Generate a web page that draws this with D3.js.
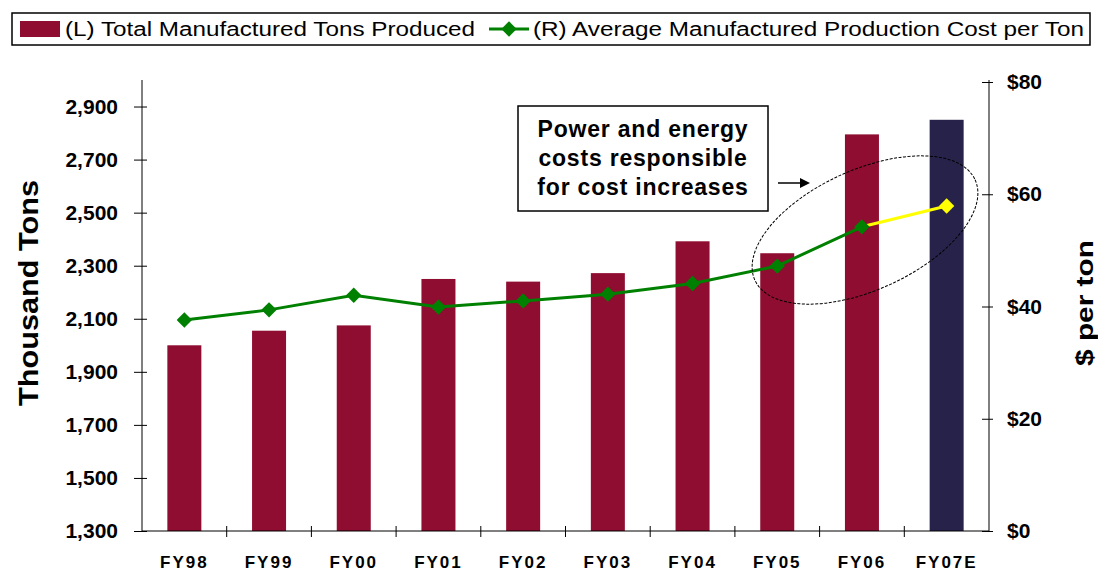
<!DOCTYPE html>
<html>
<head>
<meta charset="utf-8">
<script src="https://cdn.jsdelivr.net/npm/d3@7"></script>
<style>
  body { margin: 0; background: #fff; }
  svg { display: block; font-family: "Liberation Sans", Arial, sans-serif; }
</style>
</head>
<body>
<svg id="chart" width="1098" height="575"></svg>
<script>
  // data
  var years = ["FY98", "FY99", "FY00", "FY01", "FY02", "FY03", "FY04", "FY05", "FY06", "FY07E"];
  var tons = [2000, 2055, 2075, 2250, 2240, 2272, 2392, 2347, 2795, 2850];
  var costPerTon = [37.6, 39.4, 42.0, 39.9, 41.0, 42.2, 44.1, 47.2, 54.2, 57.9];
  var leftTicks = [1300, 1500, 1700, 1900, 2100, 2300, 2500, 2700, 2900];
  var rightTicks = [0, 20, 40, 60, 80];
  var noteLines = ["Power and energy", "costs responsible", "for cost increases"];

  var svg = d3.select("#chart");
  var plotL = 142, plotR = 989, plotT = 80, plotB = 531;

  var xs = d3.scaleBand().domain(years).range([plotL, plotR]);
  var yL = d3.scaleLinear().domain([1300, 3000]).range([plotB, plotT]);
  var yR = d3.scaleLinear().domain([0, 80]).range([plotB, 82]);

  // bars
  svg.selectAll("rect.bar").data(years).enter().append("rect")
      .attr("class", "bar")
      .attr("x", function(d) { return xs(d) + xs.bandwidth() / 2 - 17; })
      .attr("width", 34)
      .attr("y", function(d, i) { return yL(tons[i]); })
      .attr("height", function(d, i) { return plotB - yL(tons[i]); })
      .attr("fill", function(d) { return d == "FY07E" ? "#27224a" : "#8e0d30"; });

  // axes
  var axL = svg.append("g").attr("transform", "translate(" + plotL + ",0)")
      .call(d3.axisLeft(yL).tickValues(leftTicks).tickFormat(d3.format(",")).tickSize(8));
  axL.select(".domain").attr("d", "M0," + plotT + "V" + plotB);
  axL.selectAll(".tick line").attr("x2", -8).attr("x1", 5);
  axL.selectAll(".tick text").attr("x", -24)
      .attr("font-size", 21).attr("font-weight", "bold")
      .attr("font-family", "'Liberation Sans', Arial, sans-serif").attr("fill", "#000");

  var axR = svg.append("g").attr("transform", "translate(" + plotR + ",0)")
      .call(d3.axisRight(yR).tickValues(rightTicks).tickFormat(function(d) { return "$" + d; }).tickSize(4));
  axR.select(".domain").attr("d", "M0," + plotT + "V" + plotB);
  axR.selectAll(".tick line").attr("x1", -7).attr("x2", 4);
  axR.selectAll(".tick text").attr("x", 18)
      .attr("font-size", 21).attr("font-weight", "bold")
      .attr("font-family", "'Liberation Sans', Arial, sans-serif").attr("fill", "#000");

  var axX = svg.append("g").attr("transform", "translate(0," + plotB + ")");
  axX.append("line").attr("x1", plotL).attr("x2", plotR).attr("stroke", "#000");
  axX.selectAll("line.tk").data(years.slice(1)).enter().append("line")
      .attr("class", "tk")
      .attr("x1", function(d) { return xs(d); }).attr("x2", function(d) { return xs(d); })
      .attr("y1", -5).attr("y2", 6).attr("stroke", "#000");
  axX.selectAll("text").data(years).enter().append("text")
      .attr("x", function(d) { return xs(d) + xs.bandwidth() / 2; })
      .attr("y", 37)
      .attr("text-anchor", "middle")
      .attr("font-size", 17).attr("font-weight", "bold").attr("letter-spacing", 2)
      .text(function(d) { return d; });
  svg.selectAll("g.tick line, .domain").attr("stroke", "#000");

  // axis titles
  svg.append("text")
      .attr("transform", "translate(38,293) rotate(-90)")
      .attr("text-anchor", "middle")
      .attr("font-size", 27).attr("font-weight", "bold")
      .attr("textLength", 226).attr("lengthAdjust", "spacingAndGlyphs")
      .text("Thousand Tons");
  svg.append("text")
      .attr("transform", "translate(1093,303) rotate(-90)")
      .attr("text-anchor", "middle")
      .attr("font-size", 24).attr("font-weight", "bold")
      .attr("textLength", 126).attr("lengthAdjust", "spacingAndGlyphs")
      .text("$ per ton");

  // cost line
  var cx = function(i) { return xs(years[i]) + xs.bandwidth() / 2; };
  var line = d3.line().x(function(d) { return cx(d); }).y(function(d) { return yR(costPerTon[d]); });
  svg.append("path").attr("d", line(d3.range(0, 9)))
      .attr("fill", "none").attr("stroke", "#008000").attr("stroke-width", 3);
  svg.append("path").attr("d", line([8, 9]))
      .attr("fill", "none").attr("stroke", "#ffff00").attr("stroke-width", 3);
  var diamond = d3.symbol().type(d3.symbolDiamond2).size(150);
  svg.selectAll("path.pt").data(d3.range(0, 10)).enter().append("path")
      .attr("class", "pt")
      .attr("d", diamond)
      .attr("transform", function(d) { return "translate(" + cx(d) + "," + yR(costPerTon[d]) + ")"; })
      .attr("fill", function(d) { return d == 9 ? "#ffff00" : "#008000"; });

  // annotation
  svg.append("rect").attr("x", 518).attr("y", 106).attr("width", 250).attr("height", 105)
      .attr("fill", "#fff").attr("stroke", "#000").attr("stroke-width", 1.5);
  svg.append("g").selectAll("text").data(noteLines).enter().append("text")
      .attr("x", 643).attr("y", function(d, i) { return 137 + i * 29; })
      .attr("text-anchor", "middle")
      .attr("font-size", 23).attr("font-weight", "bold").attr("letter-spacing", 0.8)
      .text(function(d) { return d; });
  svg.append("line").attr("x1", 778).attr("y1", 183).attr("x2", 802).attr("y2", 183)
      .attr("stroke", "#000").attr("stroke-width", 1.5);
  svg.append("path").attr("d", "M810,183 L800,178 L800,188 Z").attr("fill", "#000");
  svg.append("ellipse").attr("cx", 865).attr("cy", 230).attr("rx", 121).attr("ry", 60)
      .attr("transform", "rotate(-24.5,865,230)")
      .attr("fill", "none").attr("stroke", "#000").attr("stroke-width", 1)
      .attr("stroke-dasharray", "3,1.5");

  // legend
  var lg = svg.append("g");
  lg.append("rect").attr("x", 12).attr("y", 13).attr("width", 1078).attr("height", 32)
      .attr("fill", "#fff").attr("stroke", "#000").attr("stroke-width", 1.5);
  lg.append("rect").attr("x", 20).attr("y", 21).attr("width", 40).attr("height", 16).attr("fill", "#8e0d30");
  lg.append("text").attr("x", 65).attr("y", 36).attr("font-size", 20)
      .attr("textLength", 410).attr("lengthAdjust", "spacingAndGlyphs")
      .text("(L) Total Manufactured Tons Produced");
  lg.append("line").attr("x1", 489).attr("x2", 529).attr("y1", 29).attr("y2", 29)
      .attr("stroke", "#008000").attr("stroke-width", 3);
  lg.append("path").attr("d", diamond).attr("transform", "translate(509,29)").attr("fill", "#008000");
  lg.append("text").attr("x", 533).attr("y", 36).attr("font-size", 20)
      .attr("textLength", 551).attr("lengthAdjust", "spacingAndGlyphs")
      .text("(R) Average Manufactured Production Cost per Ton");
</script>
</body>
</html>
